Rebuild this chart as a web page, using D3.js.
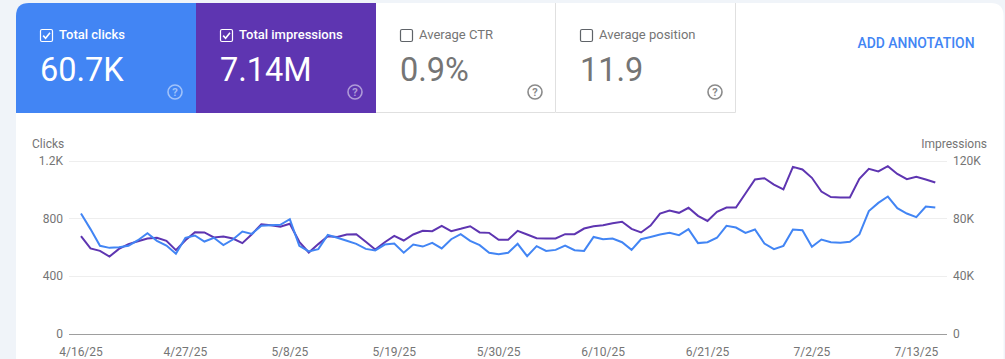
<!DOCTYPE html>
<html>
<head>
<meta charset="utf-8">
<script src="https://cdn.jsdelivr.net/npm/d3@7"></script>
<style>
  html, body { margin: 0; padding: 0; background: #f0f4f9; overflow: hidden; }
  svg { display: block; font-family: Roboto, sans-serif; }
</style>
</head>
<body>
<svg id="chart" width="1005" height="359"></svg>
<script>
// values, one per day from 4/16/25
var clicks = [832,724,608,594,599,608,647,696,643,610,553,664,680,638,664,613,652,707,691,747,751,754,793,608,569,585,684,664,643,622,587,576,617,624,560,617,603,629,590,654,689,643,613,560,550,560,622,536,606,573,580,610,578,573,670,654,659,633,580,654,670,687,698,682,724,627,633,664,747,735,698,721,624,585,608,721,717,601,652,633,629,636,687,849,906,950,869,832,807,881,874];
var impressions = [67500,59000,57300,53400,58700,62000,64000,65900,66400,64300,57800,64700,70300,70100,66600,67300,65900,62700,68900,75800,75100,74000,76100,63600,56200,62000,67500,67000,68700,68900,63600,58300,63300,67700,64500,68700,71200,71000,74700,71000,72600,74400,70100,69800,65000,65000,71200,68700,66100,65900,65900,68900,68900,72800,74400,75100,76500,77500,72600,70100,74900,83200,85300,83700,87200,81600,78100,84400,87400,87400,97100,106800,107700,103300,99900,115600,113800,108000,98500,94600,94300,94300,107300,114200,112400,116100,110700,107000,108700,106800,104700];
var clickTicks = [0,400,800,1200];
var impressionTicks = [0,40000,80000,120000];
var clickTickLabels = ['0','400','800','1.2K'];
var impressionTickLabels = ['0','40K','80K','120K'];
var dateTicks = ['2025-04-16','2025-04-27','2025-05-08','2025-05-19','2025-05-30','2025-06-10','2025-06-21','2025-07-02','2025-07-13'];

var tabNames = ['Total clicks','Total impressions','Average CTR','Average position'];
var tabValues = ['60.7K','7.14M','0.9%','11.9'];
var tabChecked = [true,true,false,false];
var tabFill = ['#4285f4','#5e35b1','#ffffff','#ffffff'];

var parseDay = d3.utcParse('%Y-%m-%d');
var startDay = parseDay('2025-04-16');
var days = clicks.map(function(d, i){ return d3.utcDay.offset(startDay, i); });

var svg = d3.select('#chart');
var grey = '#757575';

// white card
var cardTop = 3, cardLeft = 16, cardRight = 1003.5, r = 13;
svg.append('path')
   .attr('d', 'M'+cardLeft+',359V'+(cardTop+r)+'Q'+cardLeft+','+cardTop+' '+(cardLeft+r)+','+cardTop+'H'+(cardRight-r)+'Q'+cardRight+','+cardTop+' '+cardRight+','+(cardTop+r)+'V359Z')
   .attr('fill', '#fff');

// tabs
var tabW = 180, tabH = 110;
var tabs = svg.selectAll('g.tab')
  .data(tabNames)
  .join('g')
  .classed('tab', true)
  .attr('transform', function(d, i){ return 'translate('+(cardLeft + i*tabW)+','+cardTop+')'; });

tabs.append('path')
    .attr('d', function(d, i){
      if(i == 0) return 'M0,'+tabH+'V'+r+'Q0,0 '+r+',0H'+tabW+'V'+tabH+'Z';
      return 'M0,'+tabH+'V0H'+tabW+'V'+tabH+'Z';
    })
    .attr('fill', function(d, i){ return tabFill[i]; });

// grey borders on the unselected tabs
tabs.filter(function(d, i){ return !tabChecked[i]; })
    .append('path')
    .attr('d', 'M0,'+(tabH-0.5)+'H'+(tabW-0.5)+'V0')
    .attr('fill', 'none')
    .attr('stroke', '#e0e0e0');

tabs.append('rect')
    .attr('x', 24.5).attr('y', 26.5).attr('width', 12).attr('height', 12).attr('rx', 1.5)
    .attr('fill', 'none')
    .attr('stroke', function(d, i){ return tabChecked[i] ? '#fff' : '#5f6368'; })
    .attr('stroke-width', 1.2);

tabs.filter(function(d, i){ return tabChecked[i]; })
    .append('path')
    .attr('d', 'M27.2,32.6L29.6,35.2L34,29.8')
    .attr('fill', 'none')
    .attr('stroke', '#fff')
    .attr('stroke-width', 1.6);

tabs.append('text')
    .attr('x', 43).attr('y', 36)
    .attr('font-size', 13)
    .attr('font-weight', function(d, i){ return tabChecked[i] ? 500 : 400; })
    .attr('fill', function(d, i){ return tabChecked[i] ? '#fff' : grey; })
    .text(function(d){ return d; });

tabs.append('text')
    .attr('x', 24).attr('y', 78)
    .attr('font-size', 32.5)
    .attr('fill', function(d, i){ return tabChecked[i] ? '#fff' : grey; })
    .text(function(d, i){ return tabValues[i]; });

// help icons
tabs.append('circle')
    .attr('cx', 159).attr('cy', 89).attr('r', 7)
    .attr('fill', 'none')
    .attr('stroke-width', 1.6)
    .attr('stroke', function(d, i){ return tabChecked[i] ? 'rgba(255,255,255,0.5)' : '#8a8a8a'; });
tabs.append('text')
    .attr('x', 159).attr('y', 93)
    .attr('text-anchor', 'middle')
    .attr('font-size', 11)
    .attr('font-weight', 700)
    .attr('fill', function(d, i){ return tabChecked[i] ? 'rgba(255,255,255,0.5)' : '#8a8a8a'; })
    .text('?');

svg.append('text')
   .attr('x', 974.5).attr('y', 48)
   .attr('text-anchor', 'end')
   .attr('font-size', 13.9)
   .attr('font-weight', 500)
   .attr('fill', '#4285f4')
   .text('ADD ANNOTATION');

// chart
var plotL = 69, plotR = 947, plotTop = 160.5, plotBottom = 333.5;

var x = d3.scaleUtc().domain([startDay, days[days.length-1]]).range([81, 935.3]);
var yClicks = d3.scaleLinear().domain([0,1200]).range([plotBottom, plotTop]);
var yImpr = d3.scaleLinear().domain([0,120000]).range([plotBottom, plotTop]);

var leftAxis = svg.append('g')
  .classed('y-axisgroup', true)
  .attr('transform', 'translate('+plotL+',0)')
  .call(d3.axisLeft(yClicks).tickValues(clickTicks).tickSize(0).tickPadding(6)
          .tickFormat(function(d, i){ return clickTickLabels[i]; }));
var rightAxis = svg.append('g')
  .attr('transform', 'translate('+plotR+',0)')
  .call(d3.axisRight(yImpr).tickValues(impressionTicks).tickSize(0).tickPadding(6)
          .tickFormat(function(d, i){ return impressionTickLabels[i]; }));
var bottomAxis = svg.append('g')
  .attr('transform', 'translate(-0.5,'+plotBottom+')')
  .call(d3.axisBottom(x).tickValues(dateTicks.map(parseDay)).tickSize(0).tickPadding(14)
          .tickFormat(function(d){ return (d.getUTCMonth()+1)+'/'+d.getUTCDate()+'/25'; }));

[leftAxis, rightAxis, bottomAxis].forEach(function(a){
  a.select('.domain').remove();
  a.selectAll('text').attr('font-family', 'Roboto, sans-serif').attr('font-size', 12).attr('fill', grey);
});

// gridlines
svg.append('g').selectAll('line')
   .data(clickTicks)
   .join('line')
   .attr('x1', plotL).attr('x2', plotR)
   .attr('y1', function(d){ return Math.round(yClicks(d)) + 0.5; })
   .attr('y2', function(d){ return Math.round(yClicks(d)) + 0.5; })
   .attr('stroke', function(d){ return d == 0 ? '#9e9e9e' : '#eeeeee'; });

svg.append('text').attr('x', 32).attr('y', 148).attr('font-size', 12).attr('fill', grey).text('Clicks');
svg.append('text').attr('x', 987).attr('y', 148).attr('text-anchor', 'end').attr('font-size', 12).attr('fill', grey).text('Impressions');

var imprLine = d3.line().x(function(d, i){ return x(days[i]); }).y(function(d){ return yImpr(d); });
var clickLine = d3.line().x(function(d, i){ return x(days[i]); }).y(function(d){ return yClicks(d); });

svg.append('path').datum(impressions)
   .attr('d', imprLine).attr('fill', 'none').attr('stroke', '#5e35b1').attr('stroke-width', 2);
svg.append('path').datum(clicks)
   .attr('d', clickLine).attr('fill', 'none').attr('stroke', '#4285f4').attr('stroke-width', 2);
</script>
</body>
</html>
